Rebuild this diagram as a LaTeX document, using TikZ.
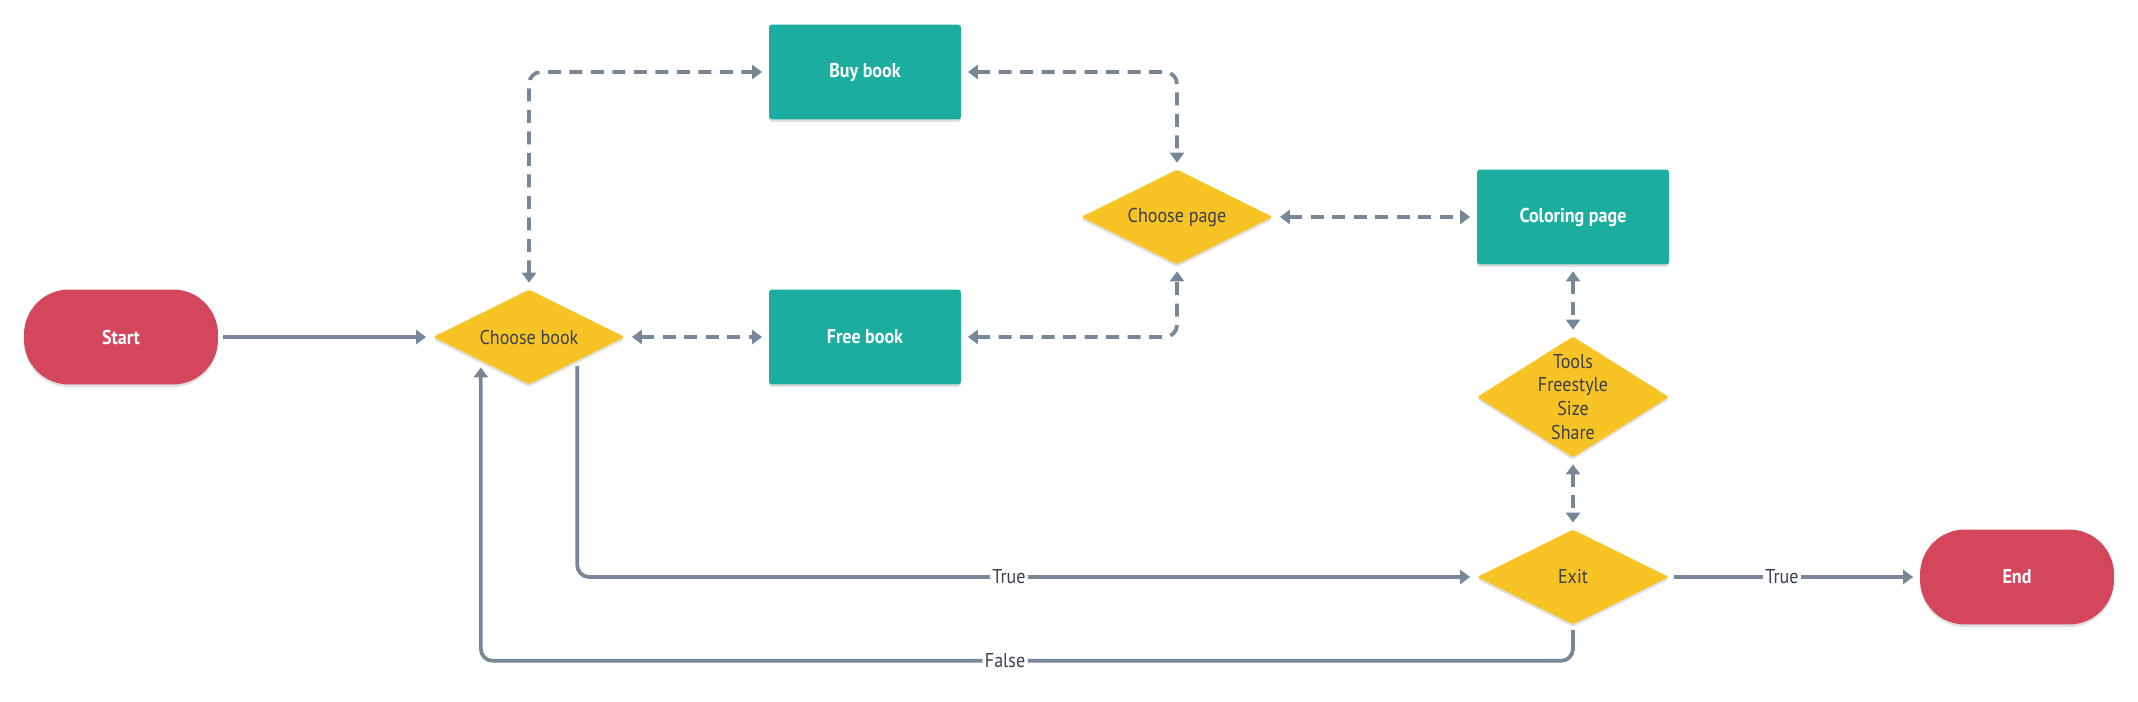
\documentclass[tikz,border=0pt]{standalone}
\usepackage{fontspec}
\setmainfont[FakeStretch=0.9]{PT Sans}
\usetikzlibrary{arrows.meta,shapes.geometric,shadows}
\definecolor{termred}{HTML}{D4465B}
\definecolor{boxteal}{HTML}{1BAE9F}
\definecolor{diayellow}{HTML}{F7C325}
\definecolor{linegray}{HTML}{778797}
\definecolor{txtdark}{HTML}{3C404B}
\newcommand\chartfont{\fontsize{11.4pt}{13.6pt}\selectfont}

\begin{document}
\begin{tikzpicture}[x=0.02cm,y=-0.02cm,
  soft/.style={drop shadow={shadow xshift=0cm,shadow yshift=-0.05cm,opacity=0.12,fill=black}},
  term/.style={soft,fill=termred,rounded corners=0.9cm,minimum width=3.88cm,minimum height=1.9cm,text=white,font=\chartfont\bfseries},
  box/.style={soft,fill=boxteal,rounded corners=0.06cm,minimum width=3.84cm,minimum height=1.9cm,text=white,font=\chartfont\bfseries},
  dia/.style={soft,diamond,aspect=2,fill=diayellow,rounded corners=0.05cm,minimum width=3.84cm,minimum height=1.9cm,inner sep=0pt,text=txtdark,font=\chartfont},
  flow/.style={draw=linegray,line width=0.075cm,-{Triangle[length=0.2cm,width=0.28cm]},shorten >=0.13cm,shorten <=0.1cm},
  both/.style={flow,{Triangle[length=0.2cm,width=0.28cm]}-{Triangle[length=0.2cm,width=0.28cm]},shorten <=0.13cm,dash pattern=on 0.26cm off 0.17cm,rounded corners=0.24cm},
  lbl/.style={fill=white,text=txtdark,inner sep=1.5pt,font=\chartfont}]
\useasboundingbox (0,0) rectangle (2138,702);

\node[term] (start) at (121,337) {Start};
\node[dia] (choosebook) at (529,337) {Choose book};
\node[box] (buybook) at (865,72) {Buy book};
\node[box] (freebook) at (865,337) {Free book};
\node[dia] (choosepage) at (1177,217) {Choose page};
\node[box] (coloringpage) at (1573,217) {Coloring page};
\node[dia,minimum height=2.42cm,label={[text=txtdark,font=\chartfont,align=center]center:Tools\\Freestyle\\Size\\Share}] (tools) at (1573,397) {};
\node[dia] (exit) at (1573,577) {Exit};
\node[term] (end) at (2017,577) {End};

\path[draw,flow] (start) -- (choosebook);
\path[draw,both] (choosebook.north) |- (buybook.west);
\path[draw,both] (choosebook) -- (freebook);
\path[draw,both] (buybook.east) -| (choosepage.north);
\path[draw,both] (freebook.east) -| (choosepage.south);
\path[draw,both] (choosepage) -- (coloringpage);
\path[draw,both] (coloringpage) -- (tools);
\path[draw,both] (tools) -- (exit);
\path[draw,flow,rounded corners=0.24cm] (choosebook.south east) |- node[lbl,pos=0.74] {True} (exit.west);
\path[draw,flow,rounded corners=0.24cm] (exit.south) -- ++(0,36) -| node[lbl,pos=0.26] {False} (choosebook.south west);
\path[draw,flow] (exit) -- node[lbl,pos=0.45] {True} (end);
\end{tikzpicture}
\end{document}
